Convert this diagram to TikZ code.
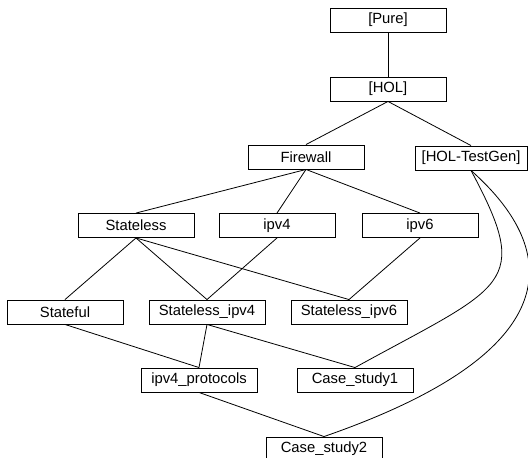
\documentclass[tikz,border=0pt]{standalone}
\usepackage{fontspec}
\setmainfont{Liberation Sans}
\begin{document}
\begin{tikzpicture}[x=1pt,y=-1pt,
  box/.style={draw, line width=0.9pt, minimum width=116pt, minimum height=24pt, inner sep=0pt, font=\fontsize{14.8}{16}\selectfont},
  edge/.style={line width=0.8pt}]
\useasboundingbox (0,0) rectangle (528,458);
\node[box] (pure) at (388,20) {[Pure]};
\node[box] (hol) at (388,89) {[HOL]};
\node[box] (fw) at (306,157) {Firewall};
\node[box, minimum width=112pt] (hgen) at (471,158) {[HOL-TestGen]};
\node[box] (sl) at (136,225.5) {Stateless};
\node[box] (ip4) at (277,225.5) {ipv4};
\node[box] (ip6) at (420,225.5) {ipv6};
\node[box] (sf) at (65,312) {Stateful};
\node[box] (sl4) at (207,312) {Stateless\_ipv4};
\node[box] (sl6) at (349,312) {Stateless\_ipv6};
\node[box] (proto) at (199,380) {ipv4\_protocols};
\node[box] (cs1) at (355,380) {Case\_study1};
\node[box] (cs2) at (324,449) {Case\_study2};
\draw[edge] (pure.south) -- (hol.north);
\draw[edge] (hol.south) -- (fw.north);
\draw[edge] (hol.south) -- (hgen.north);
\draw[edge] (fw.south) -- (sl.north);
\draw[edge] (fw.south) -- (ip4.north);
\draw[edge] (fw.south) -- (ip6.north);
\draw[edge] (sl.south) -- (sf.north);
\draw[edge] (sl.south) -- (sl4.north);
\draw[edge] (sl.south) -- (sl6.north);
\draw[edge] (ip4.south) -- (sl4.north);
\draw[edge] (ip6.south) -- (sl6.north);
\draw[edge] (sf.south) -- (proto.north);
\draw[edge] (sl4.south) -- (proto.north);
\draw[edge] (sl4.south) -- (cs1.north);
\draw[edge] (proto.south) -- (cs2.north);
\draw[edge] (hgen.south) .. controls (533,286) and (505,285) .. (cs1.north);
\draw[edge] (hgen.south) .. controls (563,252) and (568,352) .. (cs2.north);
\end{tikzpicture}
\end{document}
